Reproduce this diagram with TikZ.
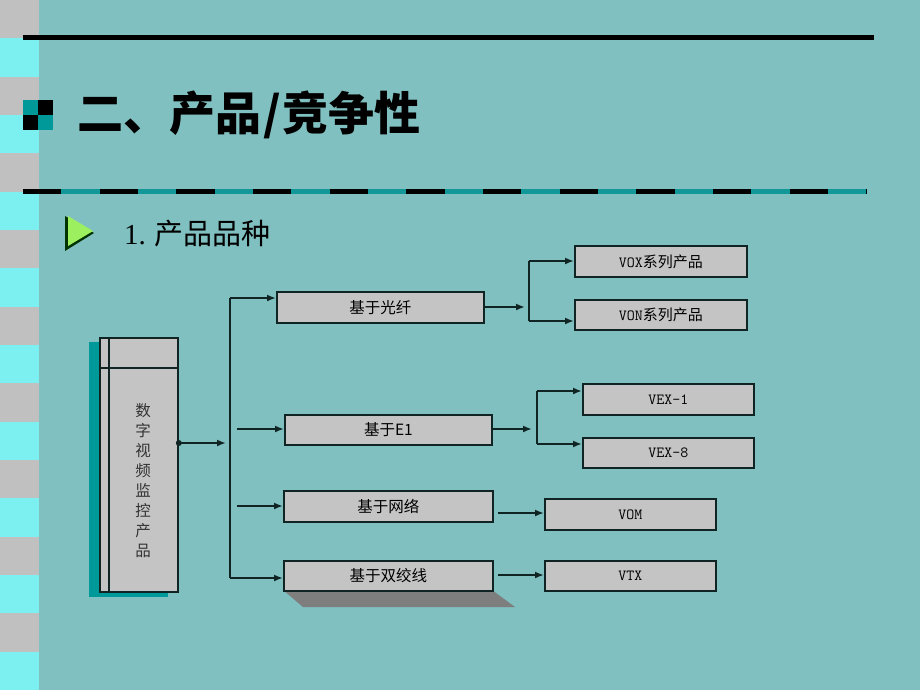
\documentclass[tikz,border=0pt]{standalone}
\usepackage{fontspec}
\setmainfont{Liberation Serif}
\newfontfamily\cjk{Noto Sans CJK SC}
\usetikzlibrary{arrows.meta}
\definecolor{bg}{HTML}{80C0C0}
\definecolor{stripegray}{HTML}{C0C0C0}
\definecolor{stripecyan}{HTML}{7CF0F0}
\definecolor{darkteal}{HTML}{009999}
\definecolor{dashteal}{HTML}{129898}
\definecolor{boxgray}{HTML}{C4C4C4}
\definecolor{shadowgray}{HTML}{7E7E7E}
\definecolor{linec}{HTML}{102424}
\definecolor{labelgray}{HTML}{333333}
\definecolor{tri}{HTML}{9CF060}
\begin{document}
\begin{tikzpicture}[x=1pt,y=-1pt,
  box/.style={draw=linec, fill=boxgray, line width=1.8pt, inner sep=0pt, anchor=north west},
  lvlone/.style={box, font=\cjk\fontsize{15.5}{15.5}\selectfont},
  lvltwo/.style={box, font=\fontsize{15}{15}\selectfont},
  mono/.style={},
  arr/.style={draw=linec, line width=2pt, -{Latex[length=9pt,width=7pt]}},
  ln/.style={draw=linec, line width=2pt}]
\useasboundingbox (0,0) rectangle (920,690);
\fill[bg] (0,0) rectangle (920,690);
% left stripes
\foreach \i in {0,...,8}{
  \fill[stripegray] (0,{\i*76.667}) rectangle (39,{\i*76.667+38.333});
  \fill[stripecyan] (0,{\i*76.667+38.333}) rectangle (39,{\i*76.667+76.667});
}
% top rule
\draw[line width=5pt, black] (23,38) -- (874,38);
% title icon
\fill[darkteal] (23,100) rectangle (38,115);
\fill[black] (38,100) rectangle (53,115);
\fill[black] (23,115) rectangle (38,130);
\fill[darkteal] (38,115) rectangle (53,130);
\node[anchor=west, inner sep=0pt, font=\cjk\bfseries\fontsize{46}{46}\selectfont] (title) at (77,115) {二、产品\hspace{2pt}/\hspace{2pt}竞争性};
% dashed rule
\draw[line width=5pt, dashteal] (23,191) -- (867,191);
\draw[line width=5pt, black, dash pattern=on 38.33pt off 38.33pt] (23,191) -- (867,191);
% subtitle triangle
\fill[black!80!green] (65,216) -- (94,233) -- (65,251) -- cycle;
\fill[tri] (68,216) -- (93,231) -- (68,246) -- cycle;
\node[anchor=west, inner sep=0pt, font=\fontsize{29}{29}\selectfont] (sub) at (124,234) {1.\hspace{9pt}{\cjk 产品品种}};

% main box
\fill[darkteal] (89,342) rectangle (168,597);
\node[box, minimum width=78pt, minimum height=254pt] (main) at (99,337) {};
\draw[linec, line width=1.8pt] (109,337) -- (109,591);
\draw[linec, line width=1.8pt] (99,368) -- (177,368);
\node[inner sep=0pt, align=center, text=labelgray, font=\cjk\fontsize{15.5}{20}\selectfont] (mlabel) at (143,481) {数\\字\\视\\频\\监\\控\\产\\品};

% level one
\node[lvlone, minimum width=207pt, minimum height=31pt] (fiber) at (276,291) {基于光纤};
\node[lvlone, minimum width=207pt, minimum height=30pt] (e1) at (284,414) {基于E1};
\node[lvlone, minimum width=209pt, minimum height=31pt] (net) at (283,490) {基于网络};
\fill[shadowgray] (283,590) -- (492,590) -- (515,607) -- (303,607) -- cycle;
\node[lvlone, minimum width=209pt, minimum height=30pt] (tp) at (283,560) {基于双绞线};

% level two
\node[lvltwo, minimum width=172pt, minimum height=31pt] (vox) at (574,245) {{\ttfamily\fontsize{15.5}{15}\selectfont VOX}{\cjk 系列产品}};
\node[lvltwo, minimum width=172pt, minimum height=30pt] (von) at (574,299) {{\ttfamily\fontsize{15.5}{15}\selectfont VON}{\cjk 系列产品}};
\node[lvltwo, minimum width=171pt, minimum height=31pt] (vex1) at (582,383) {{\ttfamily\fontsize{15.5}{15}\selectfont VEX-1}};
\node[lvltwo, minimum width=171pt, minimum height=30pt] (vex8) at (582,437) {{\ttfamily\fontsize{15.5}{15}\selectfont VEX-8}};
\node[lvltwo, minimum width=171pt, minimum height=31pt] (vom) at (544,498) {{\ttfamily\fontsize{15.5}{15}\selectfont VOM}};
\node[lvltwo, minimum width=171pt, minimum height=30pt] (vtx) at (544,560) {{\ttfamily\fontsize{15.5}{15}\selectfont VTX}};

% connectors from main
\coordinate (busin) at (226,443);
\coordinate (btop) at (230,298);
\coordinate (bbot) at (230,578);
\coordinate (e1in) at (237,429);
\coordinate (netin) at (237,506);
\fill[linec] (main.east |- busin) circle (3pt);
\draw[arr] (main.east |- busin) -- (busin);
\draw[ln] (btop) -- (bbot);
\draw[arr] (btop) -- (fiber.west |- btop);
\draw[arr] (bbot) -- (tp.west |- bbot);
\draw[arr] (e1in) -- (e1.west |- e1in);
\draw[arr] (netin) -- (net.west |- netin);

% fiber branch
\coordinate (fin) at (525,307);
\coordinate (ftop) at (529,261);
\coordinate (fbot) at (529,321);
\draw[arr] (fiber.east |- fin) -- (fin);
\draw[ln] (ftop) -- (fbot);
\draw[arr] (ftop) -- (vox.west |- ftop);
\draw[arr] (fbot) -- (von.west |- fbot);

% e1 branch
\coordinate (ein) at (532,429);
\coordinate (etop) at (537,391);
\coordinate (ebot) at (537,444);
\draw[arr] (e1.east |- ein) -- (ein);
\draw[ln] (etop) -- (ebot);
\draw[arr] (etop) -- (vex1.west |- etop);
\draw[arr] (ebot) -- (vex8.west |- ebot);

% net and twisted pair
\coordinate (nout) at (498,513);
\coordinate (tout) at (498,575);
\draw[arr] (nout) -- (vom.west |- nout);
\draw[arr] (tout) -- (vtx.west |- tout);
\end{tikzpicture}
\end{document}
